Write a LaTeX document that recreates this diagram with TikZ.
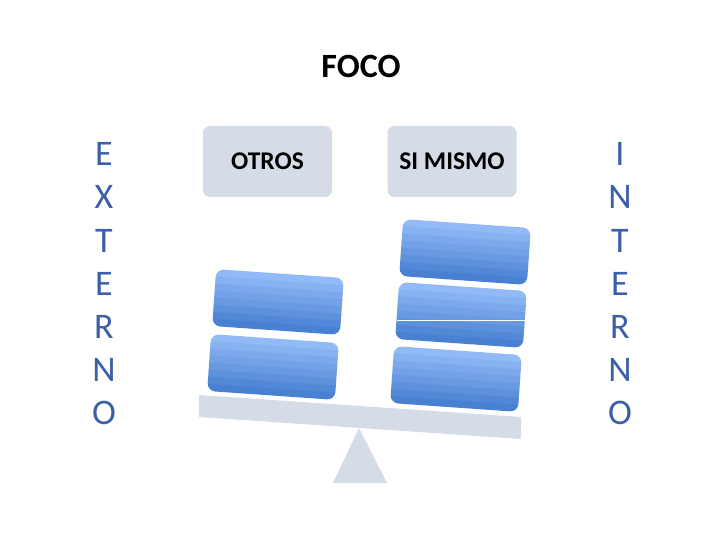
\documentclass[tikz,border=0pt]{standalone}
\usepackage{fontspec}
\setmainfont{Carlito}
\definecolor{pale}{RGB}{214,220,231}
\definecolor{bltop}{RGB}{146,186,246}
\definecolor{blbot}{RGB}{72,128,210}
\definecolor{lettr}{RGB}{60,96,168}
\newcommand\blueblock[2]{%
  \begin{scope}[shift={(#1,#2)}, rotate=-4]
    \clip[rounded corners=8pt] (-64,-28.5) rectangle (64,28.5);
    \foreach \k in {0,...,7} {
      \pgfmathsetmacro\pc{\k*100/7}
      \fill[blbot!\pc!bltop] (-66,-28.5+7.125*\k) rectangle (66,-28.5+7.125*\k+7.6);
    }
  \end{scope}}
\begin{document}
\begin{tikzpicture}[x=1pt,y=-1pt,
  header/.style={fill=pale, rounded corners=7pt, minimum width=129pt, minimum height=71pt,
    font=\bfseries\fontsize{25.5}{30}\selectfont, inner sep=0pt},
  vletter/.style={text=lettr, font=\fontsize{36}{43}\selectfont, inner sep=0pt, anchor=base},
  titlefont/.style={font=\bfseries\fontsize{34}{40}\selectfont, inner sep=0pt, anchor=base}]
  \useasboundingbox (0,0) rectangle (720,540);
  \fill[white] (0,0) rectangle (720,540);
  % title
  \node[titlefont] (foco) at (361,78) {FOCO};
  % headers
  \node[header] (otros) at (267.5,161.5) {OTROS};
  \node[header] (simismo) at (452,161.5) {SI MISMO};
  % vertical words
  \foreach \ch [count=\i] in {E,X,T,E,R,N,O}
    \node[vletter] (ext\i) at (104,166+43*\i-43) {\ch};
  \foreach \ch [count=\i] in {I,N,T,E,R,N,O}
    \node[vletter] (int\i) at (620,166+43*\i-43) {\ch};
  % fulcrum and plank
  \fill[pale] (359,428) -- (387,483) -- (333,483) -- cycle;
  \fill[pale] (199,395) -- (521,417) -- (521,439) -- (199,417) -- cycle;
  % blocks
  \blueblock{278}{302}
  \blueblock{273}{367}
  \blueblock{465}{252}
  \blueblock{461}{315}
  \blueblock{456}{379}
  \draw[white, line width=1pt] (397,320) -- (525,320);
\end{tikzpicture}
\end{document}
